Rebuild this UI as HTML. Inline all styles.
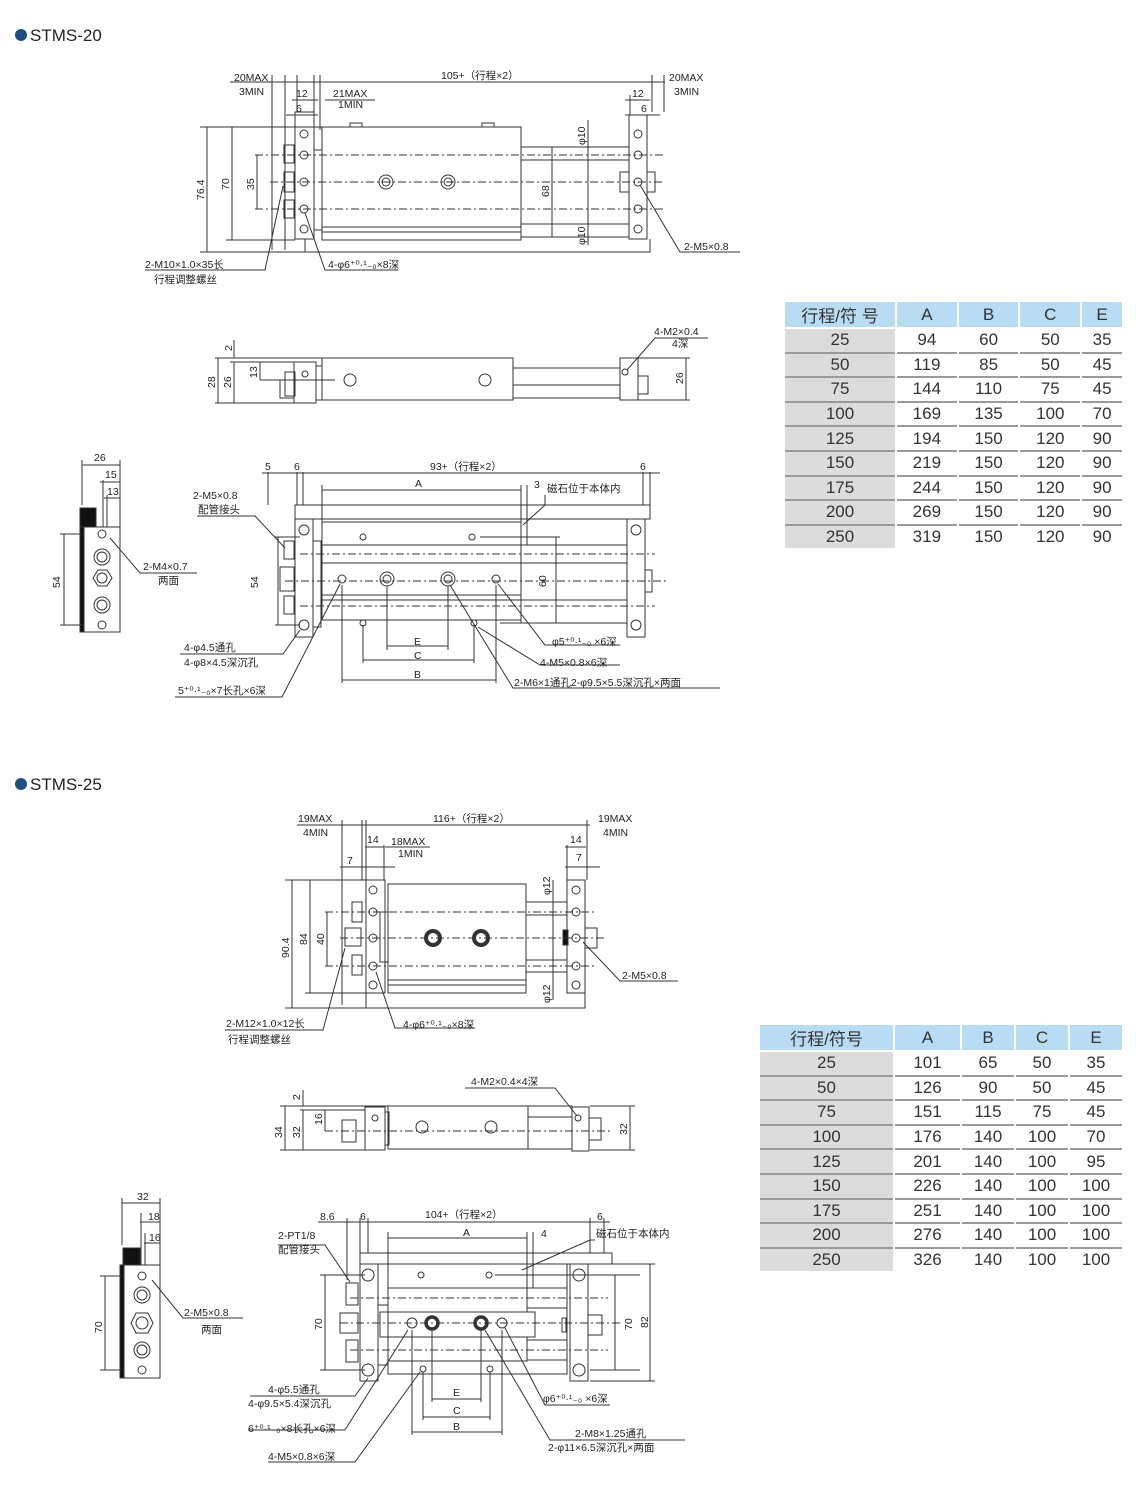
<!DOCTYPE html>
<html><head><meta charset="utf-8">
<style>
html,body{margin:0;padding:0;background:#fff;}
body{width:1140px;height:1504px;position:relative;overflow:hidden;font-family:"Liberation Sans","Noto Sans CJK SC",sans-serif;}
svg{position:absolute;left:0;top:0;}
svg text{font-family:"Liberation Sans","Noto Sans CJK SC",sans-serif;fill:#222;}
.t{position:absolute;border-collapse:separate;border-spacing:2px 0;font-size:17px;color:#333;}
.t td{text-align:center;height:22.6px;padding:0;border-bottom:2px solid #9a9a9a;}
.t tr.h td{background:#b8dcf4;border-bottom:2px solid #fff;}
.t td.f{background:#dcdcdc;}
.t tr:last-child td{border-bottom:none;}
</style></head><body>
<svg width="1140" height="1504" viewBox="0 0 1140 1504" fill="none" stroke="#333" stroke-width="1">
<!-- titles -->
<circle cx="21" cy="35" r="6" fill="#1d4f82" stroke="none"/>
<text x="30" y="41" font-size="17" stroke="none">STMS-20</text>
<circle cx="21" cy="784" r="6" fill="#1d4f82" stroke="none"/>
<text x="30" y="790" font-size="17" stroke="none">STMS-25</text>

<g font-size="10.5" stroke="none">
<!-- ===== STMS-20 top view ===== -->
</g>
<g>
<rect x="295" y="112" width="19" height="127"/>
<rect x="314" y="150" width="8" height="80"/>
<rect x="322" y="127" width="199" height="113"/>
<line x1="322" y1="227" x2="521" y2="227"/><line x1="322" y1="232" x2="521" y2="232"/>
<rect x="350" y="123" width="12" height="4"/><rect x="482" y="123" width="12" height="4"/>
<rect x="521" y="147" width="108" height="90"/>
<line x1="521" y1="160" x2="629" y2="160"/><line x1="521" y1="224" x2="629" y2="224"/>
<rect x="629" y="115" width="18" height="124"/>
<rect x="647" y="172" width="8" height="20"/>
<rect x="620" y="172" width="9" height="20"/>
<rect x="284" y="145" width="10" height="18"/><rect x="284" y="172" width="10" height="20"/><rect x="284" y="200" width="10" height="18"/>
<polyline points="305,239 305,252 650,252 650,239"/>
<g stroke-dasharray="8,3,2,3">
<line x1="255" y1="155" x2="665" y2="155"/><line x1="270" y1="182" x2="665" y2="182"/><line x1="255" y1="209" x2="665" y2="209"/>
</g>
<circle cx="304" cy="134" r="4"/><circle cx="304" cy="155" r="4"/><circle cx="304" cy="182" r="4"/><circle cx="304" cy="209" r="4"/><circle cx="304" cy="229" r="4"/>
<circle cx="638" cy="134" r="4"/><circle cx="638" cy="155" r="4"/><circle cx="638" cy="182" r="4"/><circle cx="638" cy="209" r="4"/><circle cx="638" cy="229" r="4"/>
<circle cx="386" cy="182" r="7"/><circle cx="386" cy="182" r="4"/><circle cx="448" cy="182" r="7"/><circle cx="448" cy="182" r="4"/>
<!-- dims -->
<line x1="230" y1="82" x2="665" y2="82"/>
<line x1="272" y1="75" x2="272" y2="250"/><line x1="285" y1="75" x2="285" y2="250"/><line x1="297" y1="75" x2="297" y2="112"/><line x1="314" y1="75" x2="314" y2="130"/><line x1="320" y1="75" x2="320" y2="130"/>
<line x1="652" y1="75" x2="652" y2="112"/><line x1="664" y1="75" x2="664" y2="112"/><line x1="630" y1="95" x2="630" y2="115"/>
<line x1="292" y1="100" x2="318" y2="100"/><line x1="286" y1="115" x2="318" y2="115"/><line x1="625" y1="100" x2="650" y2="100"/><line x1="625" y1="115" x2="660" y2="115"/>
<line x1="325" y1="100" x2="375" y2="100"/>
<line x1="200" y1="127" x2="322" y2="127"/><line x1="200" y1="252" x2="305" y2="252"/><line x1="226" y1="240" x2="295" y2="240"/>
<line x1="207" y1="127" x2="207" y2="252"/><line x1="232" y1="127" x2="232" y2="240"/><line x1="257" y1="155" x2="257" y2="209"/>
<line x1="552" y1="147" x2="552" y2="237"/><line x1="588" y1="120" x2="588" y2="245"/>
<polyline points="145,270 265,270 283,186"/><polyline points="398,270 325,270 305,213"/><polyline points="740,252 680,252 640,185"/>
</g>
<g font-size="10.5" stroke="none">
<text x="234" y="81">20MAX</text><text x="239" y="95">3MIN</text>
<text x="441" y="79">105+（行程×2）</text>
<text x="669" y="81">20MAX</text><text x="674" y="95">3MIN</text>
<text x="296" y="97">12</text><text x="296" y="112">6</text>
<text x="333" y="97">21MAX</text><text x="338" y="108">1MIN</text>
<text x="632" y="97">12</text><text x="641" y="112">6</text>
<text transform="translate(204,200) rotate(-90)">76.4</text>
<text transform="translate(229,190) rotate(-90)">70</text>
<text transform="translate(254,190) rotate(-90)">35</text>
<text transform="translate(549,197) rotate(-90)">68</text>
<text transform="translate(585,145) rotate(-90)">φ10</text>
<text transform="translate(585,245) rotate(-90)">φ10</text>
<text x="145" y="268">2-M10×1.0×35长</text><text x="154" y="283">行程调整螺丝</text>
<text x="328" y="268">4-φ6⁺⁰·¹₋₀×8深</text>
<text x="684" y="250">2-M5×0.8</text>
</g>

<!-- ===== STMS-20 side view ===== -->
<g>
<rect x="294" y="362" width="22" height="41"/><rect x="316" y="366" width="6" height="34"/>
<rect x="322" y="358" width="191" height="42"/>
<rect x="513" y="368" width="107" height="17"/><line x1="513" y1="398" x2="620" y2="398"/>
<rect x="620" y="358" width="18" height="42"/><rect x="638" y="376" width="10" height="18"/>
<rect x="285" y="372" width="10" height="24"/><rect x="280" y="380" width="14" height="18"/>
<circle cx="350" cy="380" r="6"/><circle cx="485" cy="380" r="6"/>
<circle cx="305" cy="374" r="3"/><circle cx="625" cy="372" r="3"/>
<line x1="260" y1="380" x2="335" y2="380"/>
<line x1="215" y1="358" x2="322" y2="358"/><line x1="215" y1="403" x2="294" y2="403"/><line x1="230" y1="362" x2="294" y2="362"/>
<line x1="218" y1="358" x2="218" y2="403"/><line x1="234" y1="362" x2="234" y2="403"/><line x1="260" y1="362" x2="260" y2="380"/><line x1="234" y1="340" x2="234" y2="358"/>
<line x1="638" y1="358" x2="690" y2="358"/><line x1="638" y1="400" x2="690" y2="400"/><line x1="686" y1="358" x2="686" y2="400"/>
<polyline points="708,338 655,338 627,370"/>
</g>
<g font-size="10.5" stroke="none">
<text transform="translate(215,388) rotate(-90)">28</text>
<text transform="translate(231,388) rotate(-90)">26</text>
<text transform="translate(257,378) rotate(-90)">13</text>
<text transform="translate(232,351) rotate(-90)">2</text>
<text transform="translate(683,384) rotate(-90)">26</text>
<text x="654" y="335">4-M2×0.4</text><text x="672" y="347">4深</text>
</g>

<!-- ===== STMS-20 left small view ===== -->
<g>
<rect x="80" y="527" width="40" height="105"/>
<rect x="80" y="527" width="4" height="105" fill="#111"/>
<rect x="80" y="508" width="16" height="19" fill="#111"/>
<circle cx="102" cy="534" r="4"/><circle cx="102" cy="557" r="8"/><circle cx="102" cy="557" r="5"/>
<polygon points="93,578 98,570 107,570 112,578 107,586 98,586"/><circle cx="102" cy="578" r="5"/>
<circle cx="102" cy="605" r="8"/><circle cx="102" cy="605" r="5"/><circle cx="102" cy="625" r="4"/>
<line x1="82" y1="460" x2="82" y2="505"/><line x1="120" y1="460" x2="120" y2="527"/><line x1="103" y1="480" x2="103" y2="527"/><line x1="107" y1="495" x2="107" y2="527"/>
<line x1="82" y1="465" x2="120" y2="465"/><line x1="100" y1="482" x2="120" y2="482"/><line x1="104" y1="498" x2="120" y2="498"/>
<line x1="60" y1="534" x2="82" y2="534"/><line x1="60" y1="625" x2="82" y2="625"/><line x1="64" y1="534" x2="64" y2="625"/>
<polyline points="197,573 140,573 110,538"/>
</g>
<g font-size="10.5" stroke="none">
<text x="94" y="461">26</text><text x="105" y="478">15</text><text x="107" y="495">13</text>
<text transform="translate(60,588) rotate(-90)">54</text>
<text x="143" y="570">2-M4×0.7</text><text x="158" y="584">两面</text>
</g>

<!-- ===== STMS-20 bottom view ===== -->
<g>
<rect x="295" y="505" width="355" height="14"/>
<rect x="295" y="519" width="18" height="118"/><rect x="313" y="541" width="8" height="86"/>
<rect x="322" y="522" width="199" height="98"/>
<line x1="322" y1="545" x2="521" y2="545"/><line x1="322" y1="563" x2="521" y2="563"/><line x1="322" y1="595" x2="521" y2="595"/><line x1="322" y1="600" x2="521" y2="600"/>
<rect x="521" y="545" width="106" height="78"/><line x1="521" y1="563" x2="627" y2="563"/><line x1="521" y1="600" x2="627" y2="600"/>
<rect x="627" y="519" width="18" height="118"/><rect x="645" y="570" width="7" height="22"/>
<rect x="284" y="541" width="10" height="18"/><rect x="280" y="567" width="14" height="24"/><rect x="284" y="596" width="10" height="18"/>
<g stroke-dasharray="8,3,2,3"><line x1="300" y1="554" x2="655" y2="554"/><line x1="285" y1="581" x2="668" y2="581"/><line x1="300" y1="606" x2="655" y2="606"/></g>
<circle cx="304" cy="530" r="5"/><circle cx="304" cy="625" r="5"/><circle cx="636" cy="530" r="5"/><circle cx="636" cy="625" r="5"/>
<circle cx="363" cy="537" r="3"/><circle cx="472" cy="537" r="3"/><circle cx="363" cy="623" r="3"/><circle cx="474" cy="623" r="3"/>
<circle cx="342" cy="579" r="4"/><circle cx="387" cy="579" r="7"/><circle cx="387" cy="579" r="4"/><circle cx="448" cy="579" r="7"/><circle cx="448" cy="579" r="4"/><circle cx="496" cy="579" r="4"/>
<line x1="268" y1="472" x2="268" y2="505"/><line x1="297" y1="472" x2="297" y2="505"/><line x1="303" y1="472" x2="303" y2="505"/><line x1="643" y1="472" x2="643" y2="505"/><line x1="650" y1="472" x2="650" y2="505"/>
<line x1="262" y1="473" x2="660" y2="473"/>
<line x1="322" y1="490" x2="521" y2="490"/><line x1="322" y1="485" x2="322" y2="522"/><line x1="521" y1="485" x2="521" y2="522"/><line x1="527" y1="485" x2="527" y2="545"/>
<line x1="275" y1="537" x2="300" y2="537"/><line x1="275" y1="625" x2="300" y2="625"/><line x1="278" y1="537" x2="278" y2="625"/>
<line x1="480" y1="537" x2="560" y2="537"/><line x1="500" y1="623" x2="560" y2="623"/><line x1="556" y1="537" x2="556" y2="623"/>
<line x1="363" y1="625" x2="363" y2="663"/><line x1="474" y1="625" x2="474" y2="663"/><line x1="363" y1="660" x2="474" y2="660"/>
<line x1="387" y1="586" x2="387" y2="650"/><line x1="448" y1="586" x2="448" y2="650"/><line x1="387" y1="646" x2="448" y2="646"/>
<line x1="342" y1="585" x2="342" y2="683"/><line x1="496" y1="585" x2="496" y2="683"/><line x1="342" y1="680" x2="496" y2="680"/>
<polyline points="197,516 255,516 285,548"/><polyline points="545,495 545,505 523,525"/>
<polyline points="180,654 283,654 300,630"/><polyline points="175,697 282,697 340,584"/>
<polyline points="620,645 545,645 498,584"/><polyline points="620,665 540,665 478,627"/><polyline points="720,688 513,688 450,585"/>
</g>
<g font-size="10.5" stroke="none">
<text x="265" y="470">5</text><text x="294" y="470">6</text><text x="640" y="470">6</text>
<text x="430" y="470">93+（行程×2）</text>
<text x="415" y="487">A</text><text x="534" y="488">3</text><text x="547" y="492">磁石位于本体内</text>
<text x="193" y="499">2-M5×0.8</text><text x="198" y="513">配管接头</text>
<text transform="translate(258,588) rotate(-90)">54</text>
<text transform="translate(546,587) rotate(-90)">60</text>
<text x="414" y="645">E</text><text x="414" y="659">C</text><text x="414" y="678">B</text>
<text x="184" y="651">4-φ4.5通孔</text><text x="184" y="666">4-φ8×4.5深沉孔</text>
<text x="178" y="694">5⁺⁰·¹₋₀×7长孔×6深</text>
<text x="552" y="645">φ5⁺⁰·¹₋₀ ×6深</text>
<text x="540" y="666">4-M5×0.8×6深</text>
<text x="514" y="686">2-M6×1通孔2-φ9.5×5.5深沉孔×两面</text>
</g>

<!-- ===== STMS-25 top view ===== -->
<g>
<rect x="366" y="880" width="19" height="113"/><rect x="380" y="912" width="8" height="50"/>
<rect x="388" y="884" width="138" height="109"/><line x1="388" y1="980" x2="526" y2="980"/><line x1="388" y1="985" x2="526" y2="985"/>
<rect x="526" y="902" width="41" height="70"/><line x1="526" y1="915" x2="567" y2="915"/><line x1="526" y1="960" x2="567" y2="960"/>
<rect x="567" y="880" width="18" height="113"/><rect x="585" y="928" width="12" height="20"/><rect x="563" y="930" width="5" height="15" fill="#111"/>
<rect x="352" y="902" width="10" height="20"/><rect x="345" y="928" width="16" height="18"/><rect x="352" y="955" width="10" height="20"/>
<polyline points="366,993 366,1008 585,1008 585,993"/>
<g stroke-dasharray="8,3,2,3"><line x1="325" y1="912" x2="595" y2="912"/><line x1="340" y1="938" x2="605" y2="938"/><line x1="325" y1="966" x2="595" y2="966"/></g>
<circle cx="373" cy="890" r="4"/><circle cx="373" cy="912" r="4"/><circle cx="373" cy="938" r="4"/><circle cx="373" cy="966" r="4"/><circle cx="373" cy="985" r="4"/>
<circle cx="576" cy="890" r="4"/><circle cx="576" cy="912" r="4"/><circle cx="576" cy="938" r="4"/><circle cx="576" cy="966" r="4"/><circle cx="576" cy="985" r="4"/>
<circle cx="433" cy="938" r="7" stroke-width="4"/><circle cx="481" cy="938" r="7" stroke-width="4"/>
<line x1="297" y1="825" x2="590" y2="825"/>
<line x1="342" y1="820" x2="342" y2="1005"/><line x1="362" y1="820" x2="362" y2="880"/><line x1="366" y1="820" x2="366" y2="880"/><line x1="384" y1="845" x2="384" y2="880"/>
<line x1="587" y1="820" x2="587" y2="880"/><line x1="567" y1="845" x2="567" y2="880"/>
<line x1="365" y1="847" x2="384" y2="847"/><line x1="385" y1="847" x2="430" y2="847"/><line x1="340" y1="867" x2="395" y2="867"/><line x1="565" y1="847" x2="586" y2="847"/><line x1="565" y1="867" x2="600" y2="867"/>
<line x1="285" y1="880" x2="366" y2="880"/><line x1="285" y1="1008" x2="366" y2="1008"/><line x1="305" y1="993" x2="366" y2="993"/>
<line x1="292" y1="880" x2="292" y2="1008"/><line x1="310" y1="880" x2="310" y2="993"/><line x1="327" y1="912" x2="327" y2="966"/>
<line x1="553" y1="880" x2="553" y2="1000"/>
<polyline points="225,1030 323,1030 345,948"/><polyline points="475,1028 395,1028 376,972"/><polyline points="678,981 620,981 583,942"/>
</g>
<g font-size="10.5" stroke="none">
<text x="298" y="822">19MAX</text><text x="303" y="836">4MIN</text>
<text x="433" y="822">116+（行程×2）</text>
<text x="598" y="822">19MAX</text><text x="603" y="836">4MIN</text>
<text x="367" y="843">14</text><text x="391" y="845">18MAX</text><text x="398" y="857">1MIN</text>
<text x="347" y="864">7</text><text x="570" y="843">14</text><text x="576" y="861">7</text>
<text transform="translate(289,958) rotate(-90)">90.4</text>
<text transform="translate(307,945) rotate(-90)">84</text>
<text transform="translate(324,945) rotate(-90)">40</text>
<text transform="translate(550,895) rotate(-90)">φ12</text>
<text transform="translate(550,1003) rotate(-90)">φ12</text>
<text x="226" y="1027">2-M12×1.0×12长</text><text x="228" y="1043">行程调整螺丝</text>
<text x="403" y="1028">4-φ6⁺⁰·¹₋₀×8深</text>
<text x="622" y="979">2-M5×0.8</text>
</g>

<!-- ===== STMS-25 side view ===== -->
<g>
<rect x="365" y="1107" width="20" height="43"/><rect x="385" y="1112" width="4" height="33"/>
<rect x="388" y="1106" width="140" height="43"/>
<rect x="528" y="1106" width="44" height="43"/><line x1="528" y1="1117" x2="572" y2="1117"/>
<rect x="572" y="1107" width="17" height="44"/><rect x="589" y="1118" width="12" height="22"/>
<rect x="342" y="1120" width="14" height="22"/>
<circle cx="422" cy="1127" r="6"/><circle cx="491" cy="1127" r="6"/><circle cx="375" cy="1118" r="3"/><circle cx="578" cy="1118" r="3"/>
<line x1="325" y1="1131" x2="612" y2="1131" stroke-dasharray="8,3,2,3"/>
<line x1="280" y1="1106" x2="388" y2="1106"/><line x1="280" y1="1150" x2="365" y2="1150"/><line x1="300" y1="1110" x2="365" y2="1110"/>
<line x1="285" y1="1106" x2="285" y2="1150"/><line x1="303" y1="1110" x2="303" y2="1150"/><line x1="325" y1="1110" x2="325" y2="1131"/><line x1="303" y1="1090" x2="303" y2="1106"/>
<line x1="590" y1="1106" x2="635" y2="1106"/><line x1="590" y1="1150" x2="635" y2="1150"/><line x1="630" y1="1106" x2="630" y2="1150"/>
<polyline points="465,1088 555,1088 577,1116"/>
</g>
<g font-size="10.5" stroke="none">
<text transform="translate(282,1138) rotate(-90)">34</text>
<text transform="translate(300,1138) rotate(-90)">32</text>
<text transform="translate(322,1125) rotate(-90)">16</text>
<text transform="translate(300,1100) rotate(-90)">2</text>
<text transform="translate(627,1135) rotate(-90)">32</text>
<text x="471" y="1085">4-M2×0.4×4深</text>
</g>

<!-- ===== STMS-25 left small view ===== -->
<g>
<rect x="120" y="1265" width="40" height="113"/>
<rect x="120" y="1265" width="4" height="113" fill="#111"/>
<rect x="123" y="1248" width="17" height="17" fill="#111"/>
<circle cx="142" cy="1276" r="4"/><circle cx="142" cy="1295" r="8"/><circle cx="142" cy="1295" r="5"/>
<polygon points="131,1323 136,1313 148,1313 153,1323 148,1333 136,1333"/><circle cx="142" cy="1323" r="6"/>
<circle cx="142" cy="1350" r="8"/><circle cx="142" cy="1350" r="5"/><circle cx="142" cy="1370" r="4"/>
<line x1="122" y1="1198" x2="122" y2="1245"/><line x1="160" y1="1198" x2="160" y2="1265"/><line x1="141" y1="1213" x2="141" y2="1265"/><line x1="145" y1="1233" x2="145" y2="1265"/>
<line x1="122" y1="1203" x2="160" y2="1203"/><line x1="140" y1="1222" x2="160" y2="1222"/><line x1="144" y1="1243" x2="160" y2="1243"/>
<line x1="100" y1="1276" x2="122" y2="1276"/><line x1="100" y1="1370" x2="122" y2="1370"/><line x1="105" y1="1276" x2="105" y2="1370"/>
<polyline points="243,1318 183,1318 152,1280"/>
</g>
<g font-size="10.5" stroke="none">
<text x="137" y="1200">32</text><text x="148" y="1220">18</text><text x="149" y="1241">16</text>
<text transform="translate(102,1333) rotate(-90)">70</text>
<text x="184" y="1316">2-M5×0.8</text><text x="201" y="1333">两面</text>
</g>

<!-- ===== STMS-25 bottom view ===== -->
<g>
<rect x="360" y="1253" width="252" height="11"/>
<rect x="360" y="1264" width="18" height="117"/><rect x="378" y="1305" width="10" height="60"/>
<rect x="388" y="1264" width="179" height="110"/>
<rect x="388" y="1288" width="139" height="24"/><rect x="380" y="1312" width="155" height="25"/><rect x="388" y="1337" width="139" height="24"/>
<rect x="527" y="1288" width="40" height="20"/><rect x="527" y="1340" width="40" height="20"/>
<rect x="570" y="1264" width="18" height="117"/><rect x="588" y="1315" width="14" height="20"/><rect x="562" y="1318" width="4" height="14"/>
<rect x="346" y="1283" width="12" height="22"/><rect x="340" y="1313" width="18" height="20"/><rect x="346" y="1340" width="12" height="22"/>
<g stroke-dasharray="8,3,2,3"><line x1="350" y1="1298" x2="608" y2="1298"/><line x1="340" y1="1323" x2="620" y2="1323"/><line x1="350" y1="1350" x2="608" y2="1350"/></g>
<circle cx="368" cy="1275" r="6"/><circle cx="368" cy="1370" r="6"/><circle cx="579" cy="1275" r="6"/><circle cx="579" cy="1370" r="6"/>
<circle cx="421" cy="1275" r="3"/><circle cx="489" cy="1275" r="3"/><circle cx="423" cy="1369" r="3"/><circle cx="490" cy="1369" r="3"/>
<circle cx="412" cy="1323" r="5"/><circle cx="432" cy="1323" r="6" stroke-width="3.5"/><circle cx="481" cy="1323" r="6" stroke-width="3.5"/><circle cx="502" cy="1323" r="5"/>
<line x1="318" y1="1222" x2="610" y2="1222"/>
<line x1="347" y1="1218" x2="347" y2="1280"/><line x1="360" y1="1218" x2="360" y2="1253"/><line x1="368" y1="1218" x2="368" y2="1253"/><line x1="590" y1="1218" x2="590" y2="1253"/><line x1="604" y1="1218" x2="604" y2="1253"/>
<line x1="388" y1="1238" x2="527" y2="1238"/><line x1="388" y1="1232" x2="388" y2="1264"/><line x1="527" y1="1232" x2="527" y2="1288"/><line x1="533" y1="1232" x2="533" y2="1288"/>
<line x1="320" y1="1275" x2="365" y2="1275"/><line x1="320" y1="1370" x2="365" y2="1370"/><line x1="325" y1="1275" x2="325" y2="1370"/>
<line x1="495" y1="1275" x2="640" y2="1275"/><line x1="590" y1="1370" x2="640" y2="1370"/><line x1="615" y1="1275" x2="615" y2="1370"/>
<line x1="590" y1="1264" x2="655" y2="1264"/><line x1="590" y1="1381" x2="655" y2="1381"/><line x1="650" y1="1264" x2="650" y2="1381"/>
<line x1="432" y1="1330" x2="432" y2="1402"/><line x1="481" y1="1330" x2="481" y2="1402"/><line x1="432" y1="1399" x2="481" y2="1399"/>
<line x1="423" y1="1372" x2="423" y2="1420"/><line x1="490" y1="1372" x2="490" y2="1420"/><line x1="423" y1="1417" x2="490" y2="1417"/>
<line x1="412" y1="1330" x2="412" y2="1435"/><line x1="502" y1="1330" x2="502" y2="1435"/><line x1="412" y1="1432" x2="502" y2="1432"/>
<polyline points="278,1245 325,1245 350,1282"/><polyline points="595,1240 590,1240 522,1270"/>
<polyline points="250,1396 355,1396 368,1378"/><polyline points="248,1430 345,1430 408,1330"/><polyline points="268,1462 355,1462 420,1372"/>
<polyline points="610,1405 545,1405 505,1328"/><polyline points="685,1440 550,1440 485,1330"/>
</g>
<g font-size="10.5" stroke="none">
<text x="320" y="1220">8.6</text><text x="360" y="1220">6</text><text x="597" y="1220">6</text>
<text x="425" y="1218">104+（行程×2）</text>
<text x="463" y="1236">A</text><text x="541" y="1237">4</text><text x="596" y="1237">磁石位于本体内</text>
<text x="278" y="1239">2-PT1/8</text><text x="278" y="1253">配管接头</text>
<text transform="translate(322,1330) rotate(-90)">70</text>
<text transform="translate(632,1330) rotate(-90)">70</text>
<text transform="translate(648,1328) rotate(-90)">82</text>
<text x="453" y="1396">E</text><text x="453" y="1414">C</text><text x="453" y="1430">B</text>
<text x="268" y="1393">4-φ5.5通孔</text><text x="248" y="1407">4-φ9.5×5.4深沉孔</text>
<text x="248" y="1432">6⁺⁰·¹₋₀×8长孔×6深</text>
<text x="268" y="1460">4-M5×0.8×6深</text>
<text x="543" y="1402">φ6⁺⁰·¹₋₀ ×6深</text>
<text x="575" y="1437">2-M8×1.25通孔</text>
<text x="548" y="1451">2-φ11×6.5深沉孔×两面</text>
</g>
</svg>

<table class="t" style="left:783px;top:302px;width:341px;">
<colgroup><col style="width:110px"><col><col><col><col></colgroup>
<tr class="h"><td>行程/符 号</td><td>A</td><td>B</td><td>C</td><td>E</td></tr>
<tr><td class="f">25</td><td>94</td><td>60</td><td>50</td><td>35</td></tr>
<tr><td class="f">50</td><td>119</td><td>85</td><td>50</td><td>45</td></tr>
<tr><td class="f">75</td><td>144</td><td>110</td><td>75</td><td>45</td></tr>
<tr><td class="f">100</td><td>169</td><td>135</td><td>100</td><td>70</td></tr>
<tr><td class="f">125</td><td>194</td><td>150</td><td>120</td><td>90</td></tr>
<tr><td class="f">150</td><td>219</td><td>150</td><td>120</td><td>90</td></tr>
<tr><td class="f">175</td><td>244</td><td>150</td><td>120</td><td>90</td></tr>
<tr><td class="f">200</td><td>269</td><td>150</td><td>120</td><td>90</td></tr>
<tr><td class="f">250</td><td>319</td><td>150</td><td>120</td><td>90</td></tr>
</table>

<table class="t" style="left:758px;top:1025px;width:366px;">
<colgroup><col style="width:133px"><col style="width:65px"><col><col><col></colgroup>
<tr class="h"><td>行程/符号</td><td>A</td><td>B</td><td>C</td><td>E</td></tr>
<tr><td class="f">25</td><td>101</td><td>65</td><td>50</td><td>35</td></tr>
<tr><td class="f">50</td><td>126</td><td>90</td><td>50</td><td>45</td></tr>
<tr><td class="f">75</td><td>151</td><td>115</td><td>75</td><td>45</td></tr>
<tr><td class="f">100</td><td>176</td><td>140</td><td>100</td><td>70</td></tr>
<tr><td class="f">125</td><td>201</td><td>140</td><td>100</td><td>95</td></tr>
<tr><td class="f">150</td><td>226</td><td>140</td><td>100</td><td>100</td></tr>
<tr><td class="f">175</td><td>251</td><td>140</td><td>100</td><td>100</td></tr>
<tr><td class="f">200</td><td>276</td><td>140</td><td>100</td><td>100</td></tr>
<tr><td class="f">250</td><td>326</td><td>140</td><td>100</td><td>100</td></tr>
</table>
</body></html>
